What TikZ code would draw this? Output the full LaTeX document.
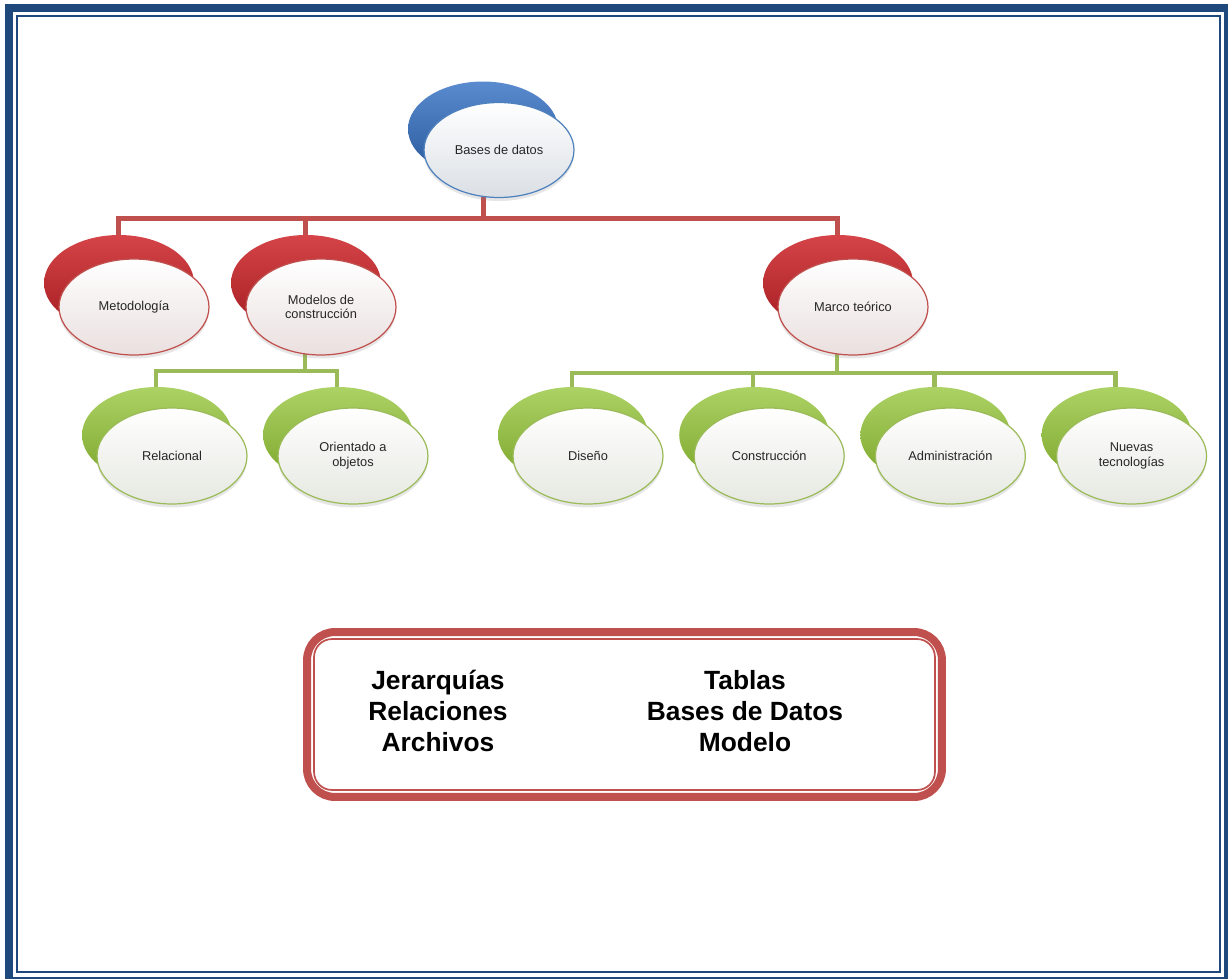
\documentclass[tikz,border=0pt]{standalone}
\usepackage{fontspec}
\setmainfont{Liberation Sans}
\usepackage{tikz}
\usetikzlibrary{shapes.geometric,shadows,positioning,calc,backgrounds}
\definecolor{marco}{RGB}{31,73,125}
\definecolor{rojo}{RGB}{192,80,77}
\definecolor{verde}{RGB}{155,187,89}
\definecolor{azul}{RGB}{79,129,189}
\definecolor{rojoF}{RGB}{205,35,40}
\definecolor{verdeF}{RGB}{145,195,50}
\definecolor{azulF}{RGB}{50,110,195}
\def\OvW{3cm}
\def\OvH{1.92cm}

\tikzset{
  ovalo/.style={ellipse, minimum width=\OvW, minimum height=\OvH, inner sep=1pt,
    align=center, font=\fontsize{7.3}{8.4}\selectfont, text=black!85, line width=0.7pt,
    drop shadow={shadow xshift=0cm, shadow yshift=-0.07cm, opacity=0.2, fill=black!50}},
  ovalo azul/.style={ovalo, draw=azul, top color=white, bottom color=azul!10!white!92!black,
    general shadow={shadow xshift=-0.32cm, shadow yshift=0.42cm,
      top color=azulF!80!white, bottom color=azulF!80!black, draw=none}},
  ovalo rojo/.style={ovalo, draw=rojo, top color=white, bottom color=rojo!10!white!94!black,
    general shadow={shadow xshift=-0.3cm, shadow yshift=0.48cm,
      top color=rojoF!85!white, bottom color=rojoF!80!black, draw=none}},
  ovalo verde/.style={ovalo, draw=verde, top color=white, bottom color=verde!8!white!93!black,
    general shadow={shadow xshift=-0.3cm, shadow yshift=0.42cm,
      top color=verdeF!75!white, bottom color=verdeF!85!black, draw=none}},
  rama roja/.style={draw=rojo, line width=0.1cm},
  rama verde/.style={draw=verde, line width=0.085cm},
  caja/.style={draw=rojo, line width=0.16cm, rounded corners=0.56cm,
    minimum width=12.7cm, minimum height=3.3cm},
  texto/.style={align=center, font=\fontsize{15}{17.6}\selectfont\bfseries}
}

\begin{document}
\begin{tikzpicture}[x=0.02cm,y=-0.02cm]
\useasboundingbox (0,0) rectangle (1228,978);
\draw[marco, line width=0.16cm] (9,7.5) rectangle (1228,981);
\draw[marco, line width=0.04cm] (17,15.5) rectangle (1220,972);
% arbol
\node[ovalo azul, minimum height=1.9cm] (bd) at (499,150) {Bases de datos};
\node[ovalo rojo] (met) at (134,307) {Metodología};
\node[ovalo rojo] (mod) at (321,307) {Modelos de\\construcción};
\node[ovalo rojo] (mar) at (853,307) {Marco teórico};
\node[ovalo verde] (rel) at (172,456) {Relacional};
\node[ovalo verde] (ori) at (353,456) {Orientado a\\objetos};
\node[ovalo verde] (dis) at (588,456) {Diseño};
\node[ovalo verde, right=0.6cm of dis] (con) {Construcción};
\node[ovalo verde, right=0.6cm of con] (adm) {Administración};
\node[ovalo verde, right=0.6cm of adm] (nue) {Nuevas\\tecnologías};
\foreach \n in {bd,met,mod,mar,rel,ori,dis,con,adm,nue}
  \coordinate (\n-t) at ($(\n.center)+(-16,0)$);
\coordinate (br) at (0,218);
\coordinate (bv1) at (0,371);
\coordinate (bv2) at (0,373);
\begin{scope}[on background layer]
\draw[rama roja] (bd-t) -- (bd-t |- br) -| (met-t);
\draw[rama roja] (bd-t |- br) -| (mod-t);
\draw[rama roja] (bd-t |- br) -| (mar-t);
\draw[rama verde] (mod-t) -- (mod-t |- bv1) -| (rel-t);
\draw[rama verde] (mod-t |- bv1) -| (ori-t);
\draw[rama verde] (mar-t) -- (mar-t |- bv2) -| (dis-t);
\draw[rama verde] (mar-t |- bv2) -| (con-t);
\draw[rama verde] (mar-t |- bv2) -| (adm-t);
\draw[rama verde] (mar-t |- bv2) -| (nue-t);
\end{scope}
% recuadro inferior
\node[caja] (resumen) at (624.5,714.5) {};
\draw[rojo, line width=0.035cm, rounded corners=0.36cm]
  ($(resumen.south west)+(11,-11)$) rectangle ($(resumen.north east)+(-11,11)$);
\node[texto] (izq) at (438,711) {Jerarquías\\Relaciones\\Archivos};
\node[texto] (der) at (745,711) {Tablas\\Bases de Datos\\Modelo};
\end{tikzpicture}
\end{document}
